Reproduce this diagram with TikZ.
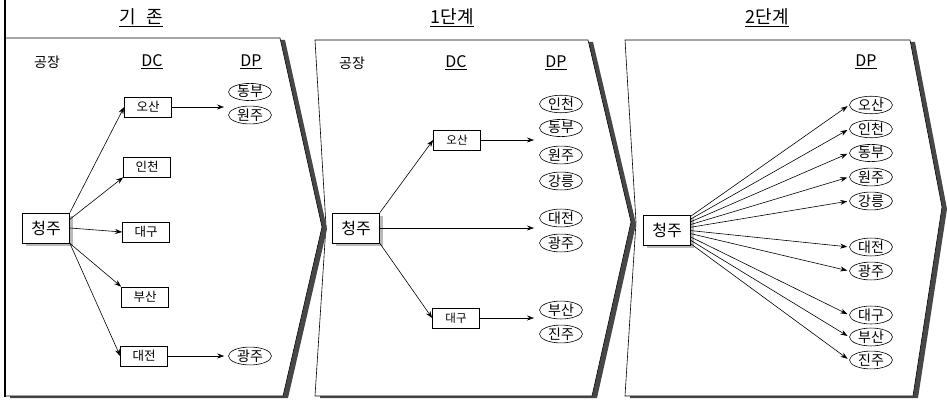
\documentclass[tikz,border=0pt]{standalone}
\usepackage{fontspec}
\setmainfont{Noto Sans CJK KR}
\usetikzlibrary{shapes.geometric,arrows.meta,calc,shadows}
\begin{document}
\begin{tikzpicture}[x=1pt,y=-1pt,
  panel/.style={fill=white,draw=black,line width=0.6pt,line join=miter},
  pshadow/.style={fill=black!72,draw=none},
  dcbox/.style={draw,fill=white,line width=0.7pt,rectangle,minimum width=47pt,minimum height=20pt,inner sep=0pt,font=\fontsize{12.5}{12.5}\selectfont},
  dcboxs/.style={dcbox,font=\fontsize{11.5}{11.5}\selectfont},
  srcbox/.style={draw,fill=white,line width=0.8pt,rectangle,minimum width=47pt,minimum height=30pt,inner sep=0pt,font=\fontsize{16}{16}\selectfont,
    drop shadow={shadow xshift=3pt,shadow yshift=-3pt,fill=gray!55,opacity=1}},
  dp/.style={ellipse,draw,fill=white,line width=0.6pt,minimum width=43pt,minimum height=17pt,inner sep=0pt,font=\fontsize{14}{14}\selectfont},
  arr/.style={-{Stealth[length=7pt,width=5pt]},line width=0.6pt},
  ttl/.style={font=\fontsize{18}{18}\selectfont},
  hdr/.style={font=\fontsize{14}{14}\selectfont},
  hdrl/.style={font=\fontsize{16}{16}\selectfont}
]
\useasboundingbox (0,0) rectangle (947,401);

% ---------- panels (drawn right to left) ----------
\fill[pshadow,shift={(5,2)}] (625,40) -- (910,40) -- (942,207) -- (913,396) -- (625,396) -- (636,222) -- cycle;
\draw[panel] (625,40) -- (910,40) -- (942,207) -- (913,396) -- (625,396) -- (636,222) -- cycle;

\fill[pshadow,shift={(5,2)}] (315,40) -- (588,40) -- (631,222) -- (592,396) -- (315,396) -- (326,226) -- cycle;
\draw[panel] (315,40) -- (588,40) -- (631,222) -- (592,396) -- (315,396) -- (326,226) -- cycle;

\fill[pshadow,shift={(5,2)}] (5,38) -- (280,38) -- (322,227) -- (283,396) -- (5,396) -- cycle;
\draw[panel] (5,38) -- (280,38) -- (322,227) -- (283,396) -- (5,396) -- cycle;
\draw[line width=1.4pt] (5,0) -- (5,397);

% ---------- titles ----------
\node[ttl] (t1) at (141,18) {\underline{기\hspace{0.6em}존}};
\node[ttl] (t2) at (452,18) {\underline{1단계}};
\node[ttl] (t3) at (767,18) {\underline{2단계}};

% ---------- panel 1 ----------
\node[hdr]  (f1) at (47,62) {공장};
\node[hdrl] (c1) at (152,62) {\underline{DC}};
\node[hdrl] (p1) at (251,62) {\underline{DP}};

\node[srcbox] (cj1) at (46,228) {청주};
\node[dcbox] (os1) at (148,107) {오산};
\node[dcbox] (ic1) at (147,167) {인천};
\node[dcbox] (dg1) at (146,232) {대구};
\node[dcbox] (bs1) at (145,297) {부산};
\node[dcbox] (dj1) at (144,356) {대전};

\node[dp] (db1) at (250,92) {동부};
\node[dp] (wj1) at (250,115) {원주};
\node[dp] (gj1) at (250,356) {광주};
\coordinate (e1) at (224,107);

\draw[arr] (cj1.north east) -- (os1.west);
\draw[arr] (cj1.20) -- (ic1.south west);
\draw[arr] (cj1.east) -- (dg1.west);
\draw[arr] (cj1.south east) -- (bs1.north west);
\draw[arr] (cj1.south east) -- (dj1.west);
\draw[arr] (os1.east) -- (e1);
\draw[arr,shorten >=4pt] (dj1.east) -- (gj1.west);

% ---------- panel 2 ----------
\node[hdr]  (f2) at (352,63) {공장};
\node[hdrl] (c2) at (456,63) {\underline{DC}};
\node[hdrl] (p2) at (556,63) {\underline{DP}};

\node[srcbox] (cj2) at (356,228) {청주};
\node[dcboxs] (os2) at (457,140) {오산};
\node[dcboxs] (dg2) at (456,318) {대구};

\node[dp] (ic2) at (561,104) {인천};
\node[dp] (db2) at (561,128) {동부};
\node[dp] (wj2) at (561,155) {원주};
\node[dp] (gr2) at (561,181) {강릉};
\node[dp] (dj2) at (561,218) {대전};
\node[dp] (gj2) at (561,243) {광주};
\node[dp] (bs2) at (561,310) {부산};
\node[dp] (jj2) at (561,334) {진주};
\coordinate (e2a) at (534,140);
\coordinate (e2b) at (534,228);
\coordinate (e2c) at (534,318);

\draw[arr] (cj2.north east) -- (os2.west);
\draw[arr] (cj2.east) -- (e2b);
\draw[arr] (cj2.south east) -- (dg2.west);
\draw[arr] (os2.east) -- (e2a);
\draw[arr] (dg2.east) -- (e2c);

% ---------- panel 3 ----------
\node[hdrl] (p3) at (866,62) {\underline{DP}};
\node[srcbox] (cj3) at (667,230) {청주};

\node[dp] (os3) at (871,105) {오산};
\node[dp] (ic3) at (871,129) {인천};
\node[dp] (db3) at (871,153) {동부};
\node[dp] (wj3) at (871,177) {원주};
\node[dp] (gr3) at (871,201) {강릉};
\node[dp] (dj3) at (871,247) {대전};
\node[dp] (gj3) at (871,271) {광주};
\node[dp] (dg3) at (871,315) {대구};
\node[dp] (bs3) at (871,337) {부산};
\node[dp] (jj3) at (871,360) {진주};

\foreach \t/\f in {os3/0.05,ic3/0.14,db3/0.23,wj3/0.32,gr3/0.41,dj3/0.52,gj3/0.62,dg3/0.73,bs3/0.84,jj3/0.95}{
  \draw[arr,shorten >=2pt] ($(cj3.north east)!\f!(cj3.south east)$) -- (\t.west);
}
\end{tikzpicture}
\end{document}
